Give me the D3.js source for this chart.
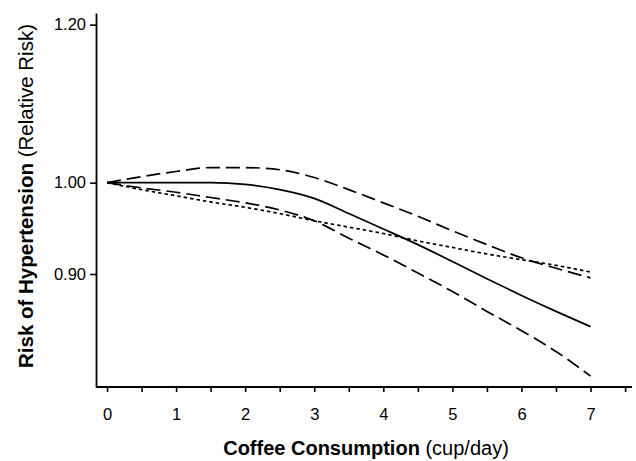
<!DOCTYPE html>
<html lang="en">
  <head>
    <meta charset="utf-8">
    <title>Coffee and hypertension</title>
    <script src="https://cdn.jsdelivr.net/npm/d3@7"></script>
    <style>
      html, body { margin:0; padding:0; background:#fff; overflow:hidden }
      svg { display:block }
      text { font-family: "Liberation Sans", Arial, sans-serif; fill:#000 }
    </style>
  </head>
  <body>
    <svg></svg>
    <script>
      // data (relative risk per cups of coffee / day)
      var cups = [0, 0.5, 1, 1.5, 2, 2.5, 3, 3.5, 4, 4.5, 5, 5.5, 6, 6.5, 7];
      var rrMain  = [1.000, 1.000, 1.000, 1.000, 0.998, 0.992, 0.982, 0.965, 0.948, 0.931, 0.913, 0.895, 0.878, 0.862, 0.847];
      var rrUpper = [1.000, 1.007, 1.013, 1.0175, 1.0175, 1.015, 1.006, 0.992, 0.977, 0.962, 0.946, 0.931, 0.917, 0.906, 0.896];
      var rrLower = [1.000, 0.994, 0.989, 0.983, 0.977, 0.969, 0.957, 0.938, 0.920, 0.901, 0.882, 0.862, 0.843, 0.823, 0.800];
      var rrDots  = [1.000, 0.992, 0.985, 0.978, 0.972, 0.965, 0.957, 0.950, 0.943, 0.935, 0.928, 0.921, 0.915, 0.909, 0.902];
      var yTicks = [0.90, 1.00, 1.20];
      var xTicks = [0, 0.5, 1, 1.5, 2, 2.5, 3, 3.5, 4, 4.5, 5, 5.5, 6, 6.5, 7, 7.5];

      var width = 636, height = 461;
      var svg = d3.select("svg").attr("width", width).attr("height", height);

      var x = d3.scaleLinear().domain([-0.145, 7.6]).range([97, 632]);
      var y = d3.scaleLog().domain([0.790, 1.2162]).range([387, 13]);

      // y axis
      var yAxis = svg.append("g")
        .attr("transform", "translate(96,0)")
        .call(d3.axisLeft(y).tickValues(yTicks).tickSize(6).tickSizeOuter(0)
              .tickPadding(4).tickFormat(d3.format(".2f")));
      // x axis
      var xAxis = svg.append("g")
        .attr("transform", "translate(0,387)")
        .call(d3.axisBottom(x).tickValues(xTicks).tickSize(5).tickSizeOuter(0)
              .tickPadding(16)
              .tickFormat(function(d) { return d % 1 === 0 ? d : ""; }));

      [yAxis, xAxis].forEach(function(g) {
        g.attr("font-size", null).attr("font-family", null);
        g.select(".domain").attr("stroke", "#000").attr("stroke-width", 1.8);
        g.selectAll(".tick line").attr("stroke", "#000").attr("stroke-width", 1.6);
        g.selectAll(".tick text").style("font-size", "16.5px");
      });
      // join the two axis lines at the corner
      xAxis.select(".domain").attr("d", "M96,0H632");

      var line = d3.line()
        .x(function(d) { return x(d[0]); })
        .y(function(d) { return y(d[1]); })
        .curve(d3.curveMonotoneX);

      var series = [
        {vals: rrMain,  dash: null},
        {vals: rrUpper, dash: "14,6"},
        {vals: rrLower, dash: "14,6"},
        {vals: rrDots,  dash: "3.5,3"}
      ];

      svg.selectAll("path.curve")
        .data(series)
        .enter()
        .append("path")
        .attr("class", "curve")
        .attr("fill", "none")
        .attr("stroke", "#000")
        .attr("stroke-width", 1.7)
        .attr("stroke-dasharray", function(s) { return s.dash; })
        .attr("d", function(s) {
          return line(cups.map(function(c, i) { return [c, s.vals[i]]; }));
        });

      // axis titles
      var xt = svg.append("text")
        .attr("x", 366).attr("y", 455)
        .attr("text-anchor", "middle")
        .style("font-size", "20px");
      xt.append("tspan").attr("font-weight", "bold").text("Coffee Consumption ");
      xt.append("tspan").text("(cup/day)");

      var yt = svg.append("text")
        .attr("transform", "translate(33,196) rotate(-90)")
        .attr("text-anchor", "middle")
        .style("font-size", "20.5px");
      yt.append("tspan").attr("font-weight", "bold").text("Risk of Hypertension ");
      yt.append("tspan").text("(Relative Risk)");
    </script>
  </body>
</html>
